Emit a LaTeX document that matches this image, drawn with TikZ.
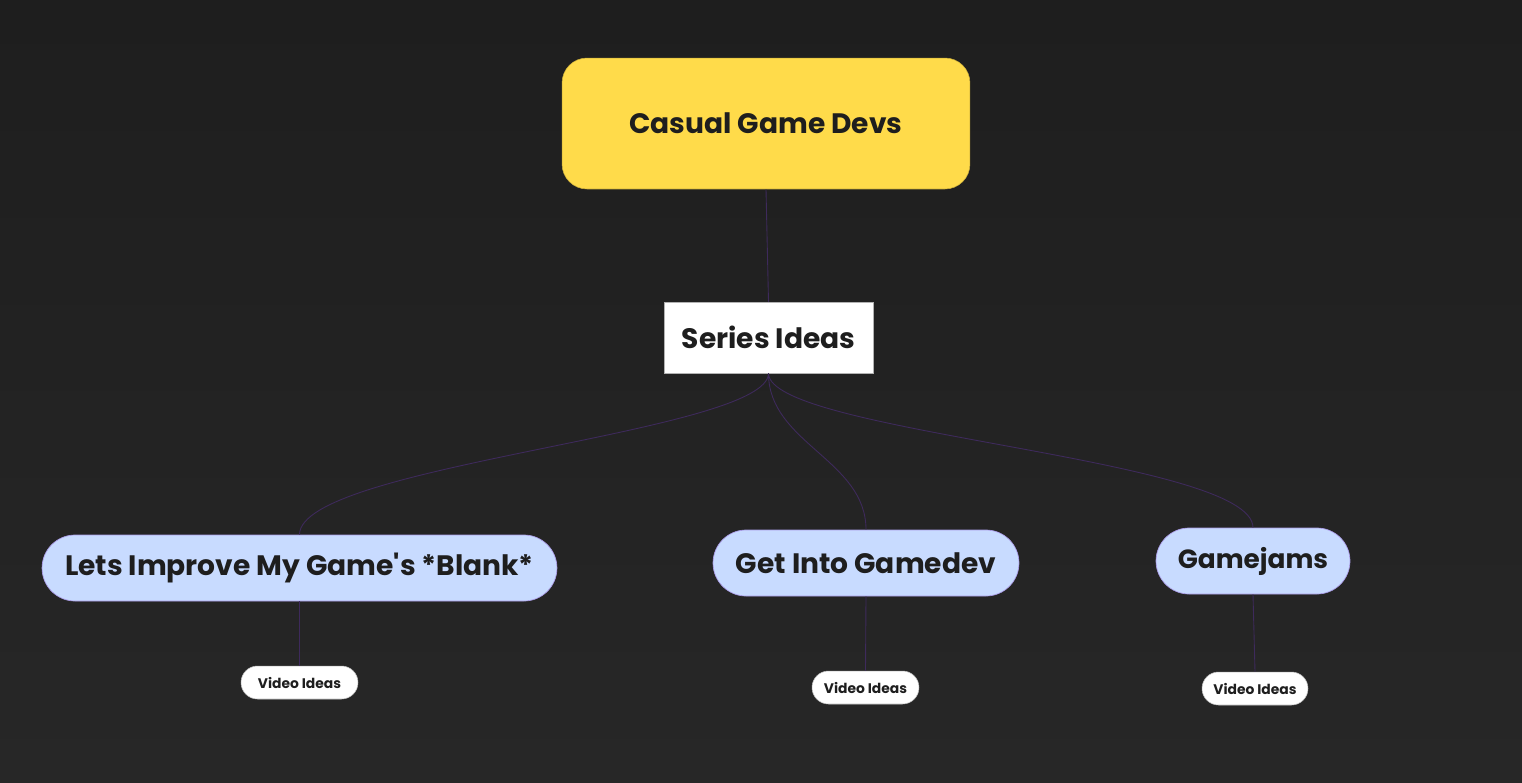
\documentclass[tikz,border=0pt]{standalone}
\usepackage{fontspec}
\setmainfont{Poppins}[BoldFont=* Bold]
\usepackage{xcolor}
\usetikzlibrary{positioning}
\definecolor{canvastop}{HTML}{1E1E1E}
\definecolor{canvasbot}{HTML}{272727}
\definecolor{rootfill}{HTML}{FFDB4A}
\definecolor{topicfill}{HTML}{C8DBFF}
\definecolor{topicline}{HTML}{A99BE6}
\definecolor{linkcol}{HTML}{3E2A5C}
\definecolor{inkcol}{HTML}{1E1E1E}

\begin{document}
\begin{tikzpicture}[
  x=0.02cm, y=-0.02cm,
  every node/.style={font=\bfseries, text=inkcol, inner sep=0pt},
  rootbox/.style={fill=rootfill, draw=rootfill!80!black, line width=0.3pt, rounded corners=0.5cm, minimum width=8.16cm, minimum height=2.62cm, font=\fontsize{16}{19}\selectfont\bfseries},
  seriesbox/.style={fill=white, draw=gray!60, line width=0.3pt, minimum width=4.18cm, minimum height=1.42cm, font=\fontsize{16}{19}\selectfont\bfseries},
  topicbox/.style={fill=topicfill, draw=topicline, line width=0.4pt, rounded corners=0.66cm, minimum height=1.32cm, font=\fontsize{16}{19}\selectfont\bfseries},
  ideabox/.style={fill=white, draw=gray!50, line width=0.3pt, rounded corners=0.33cm, minimum height=0.66cm, font=\fontsize{7.9}{9}\selectfont\bfseries},
  link/.style={draw=linkcol, line width=0.5pt}
]
% background
\shade[top color=canvastop, bottom color=canvasbot] (0,0) rectangle (1522,782);
\useasboundingbox (0,0) rectangle (1522,782);

\node[rootbox] (root) at (766,123.5) {Casual Game Devs};
\node[seriesbox] (series) at (768.5,337.5) {Series Ideas};
\node[topicbox, minimum width=10.3cm] (improve) at (299.5,568) {Lets Improve My Game\textquotesingle s *Blank*};
\node[topicbox, minimum width=6.12cm] (gamedev) at (866,563) {Get Into Gamedev};
\node[topicbox, minimum width=3.88cm, font=\fontsize{15}{18}\selectfont\bfseries] (jams) at (1253,561) {Gamejams};
\node[ideabox, minimum width=2.34cm] (idea1) at (299.5,682.5) {Video Ideas};
\node[ideabox, minimum width=2.14cm] (idea2) at (865.5,687.5) {Video Ideas};
\node[ideabox, minimum width=2.12cm] (idea3) at (1255,688.5) {Video Ideas};

% connectors
\draw[link] (root.south) -- (series.north);
\draw[link] (series.south) .. controls +(0,60) and +(0,-70) .. (improve.north);
\draw[link] (series.south) .. controls +(0,70) and +(0,-70) .. (gamedev.north);
\draw[link] (series.south) .. controls +(0,60) and +(0,-70) .. (jams.north);
\draw[link] (improve.south) -- (idea1.north);
\draw[link] (gamedev.south) -- (idea2.north);
\draw[link] (jams.south) -- (idea3.north);
\end{tikzpicture}
\end{document}
